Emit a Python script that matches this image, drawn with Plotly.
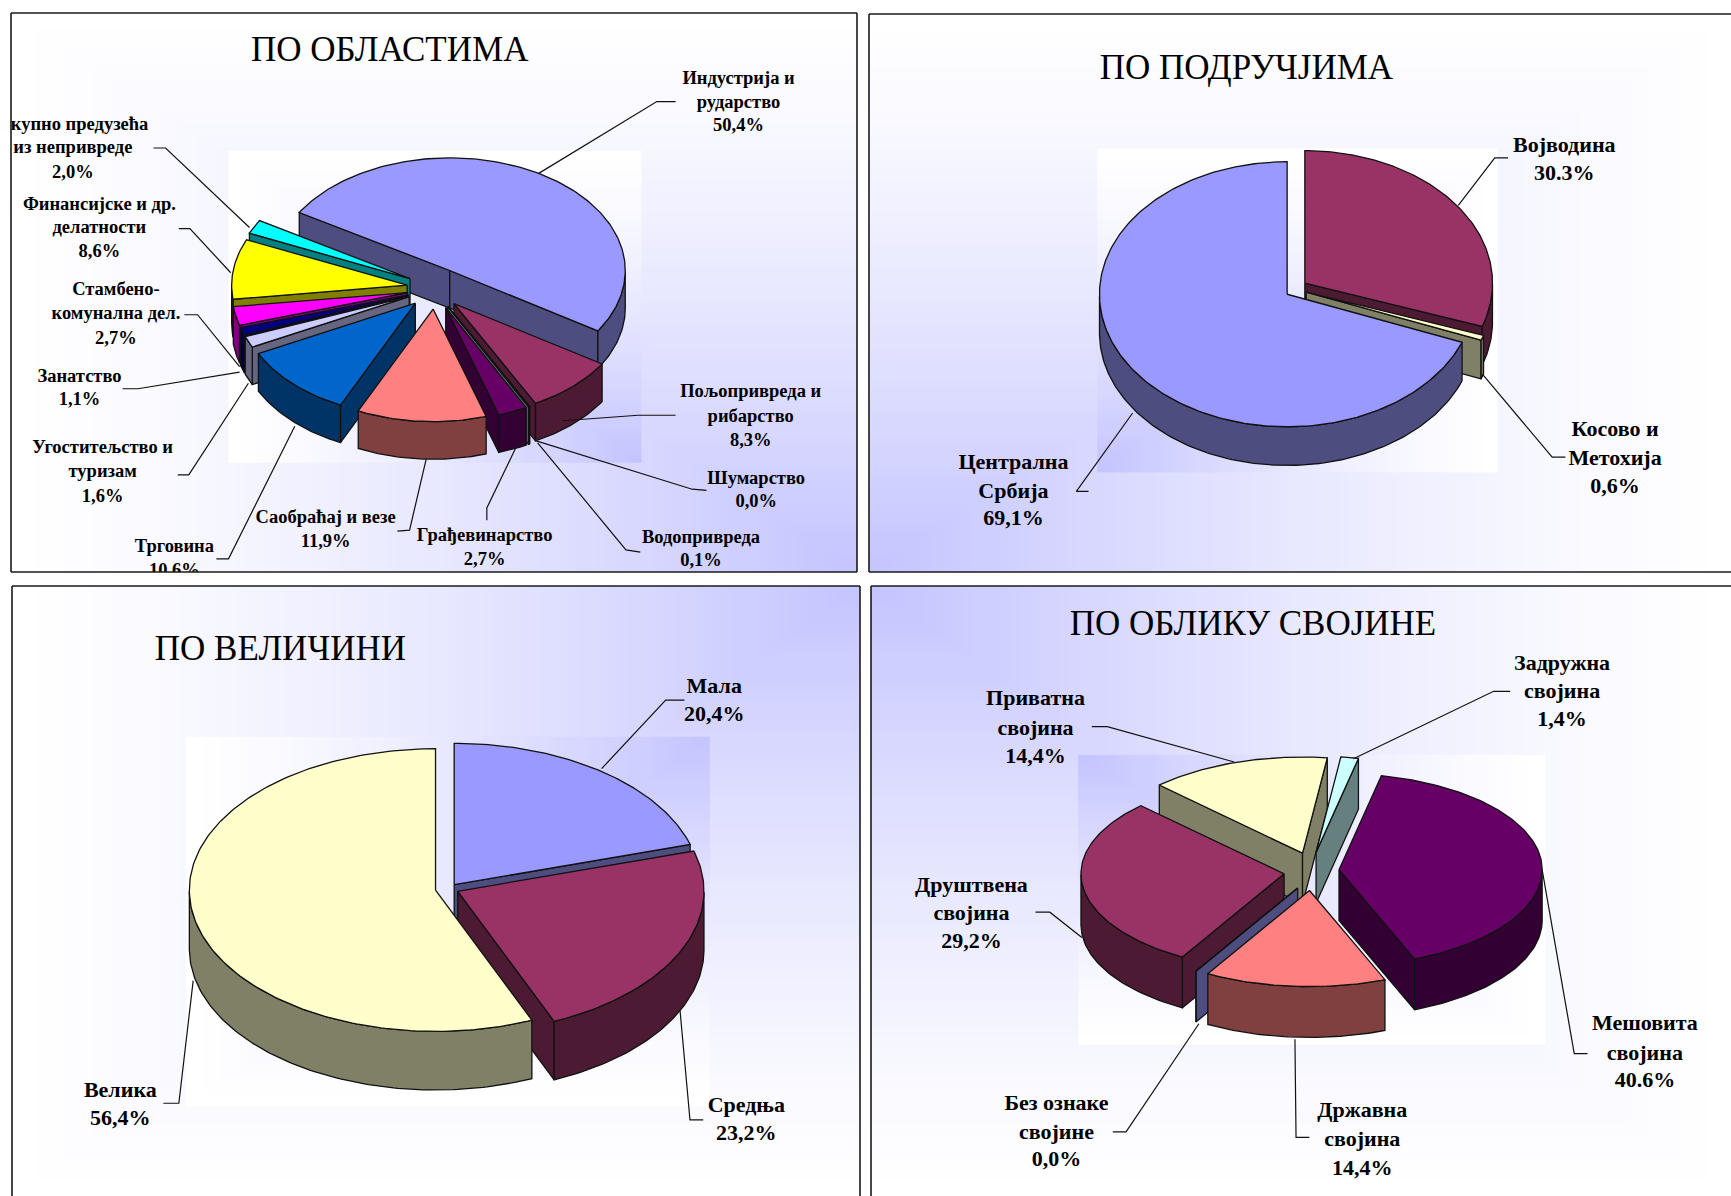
import math
import numpy as np
import plotly.graph_objects as go

# ---------- data ----------
P1_NAMES = ["Индустрија и|рударство", "Пољопривреда и|рибарство", "Шумарство", "Водопривреда",
            "Грађевинарство", "Саобраћај и везе", "Трговина", "Угоститељство и|туризам",
            "Занатство", "Стамбено-|комунална дел.", "Финансијске и др.|делатности",
            "Скупно предузећа|из непривреде"]
P1_VALUES = [50.4, 8.3, 0.0, 0.1, 2.7, 11.9, 10.6, 1.6, 1.1, 2.7, 8.6, 2.0]
P1_PCT = ["50,4%", "8,3%", "0,0%", "0,1%", "2,7%", "11,9%", "10,6%", "1,6%", "1,1%", "2,7%", "8,6%", "2,0%"]

P2_NAMES = ["Војводина", "Косово и|Метохија", "Централна|Србија"]
P2_VALUES = [30.3, 0.6, 69.1]
P2_PCT = ["30.3%", "0,6%", "69,1%"]

P3_NAMES = ["Мала", "Средња", "Велика"]
P3_VALUES = [20.4, 23.2, 56.4]
P3_PCT = ["20,4%", "23,2%", "56,4%"]

P4_NAMES = ["Задружна|својина", "Мешовита|својина", "Државна|својина", "Без ознаке|својине",
            "Друштвена|својина", "Приватна|својина"]
P4_VALUES = [1.4, 40.6, 14.4, 0.0, 29.2, 14.4]
P4_PCT = ["1,4%", "40.6%", "14,4%", "0,0%", "29,2%", "14,4%"]

TITLES = ["ПО ОБЛАСТИМА", "ПО ПОДРУЧЈИМА", "ПО ВЕЛИЧИНИ", "ПО ОБЛИКУ СВОЈИНЕ"]

# ---------- styles ----------
P1_COL = [("#9999FF", "#4D4D80"), ("#993366", "#4D1A33"), ("#FFFFCC", "#808066"), ("#CCFFFF", "#668080"),
          ("#660066", "#330033"), ("#FF8080", "#804040"), ("#0066CC", "#003366"), ("#CCCCFF", "#666680"),
          ("#000080", "#000040"), ("#FF00FF", "#800080"), ("#FFFF00", "#808000"), ("#00FFFF", "#008080")]
P2_COL = [("#993366", "#4D1A33"), ("#FFFFCC", "#808066"), ("#9999FF", "#4D4D80")]
P3_COL = [("#9999FF", "#4D4D80"), ("#993366", "#4D1A33"), ("#FFFFCC", "#808066")]
P4_COL = [("#CCFFFF", "#668080"), ("#660066", "#330033"), ("#FF8080", "#804040"), ("#9999FF", "#4D4D80"),
          ("#993366", "#4D1A33"), ("#FFFFCC", "#808066")]

SX, SY = 1731 / 1568, 1196 / 1083   # layout below measured on the 1568x1083 view
LABEL_DY = 1.7


def px(p):
    return (p[0] * SX, p[1] * SY)


# each text layout: centre x, line y positions, in the shrunk view
P1_LAB = [(669, [70, 92, 113]), (680, [354, 376, 398]), (685, [432, 453]), (635, [486, 507]),
          (439, [484, 506]), (295, [468, 489]), (158, [494, 516]), (93, [404, 426, 449]),
          (72, [340, 361]), (105, [261, 283, 306]), (90, [184, 205, 227]), (66, [112, 133, 155])]
P2_LAB = [(1417, [131, 156]), (1463, [388, 414, 440]), (918, [418, 444, 469])]
P3_LAB = [(647, [621, 646]), (676, [1000, 1026]), (109, [987, 1012])]
P4_LAB = [(1415, [600, 625, 651]), (1490, [926, 953, 978]), (1234, [1005, 1031, 1057]),
          (957, [998, 1025, 1049]), (880, [801, 826, 852]), (938, [632, 659, 684])]

P1_LEAD = [[(612, 92), (595, 92), (488, 157)], [(612, 376), (578, 376), (510, 381)],
           [(640, 444), (627, 443), (485, 399)], [(580, 500), (567, 498), (487, 401)],
           [(441, 471), (441, 460), (467, 406)], [(360, 481), (371, 480), (386, 416)],
           [(196, 506), (207, 506), (267, 386)], [(161, 430), (171, 430), (225, 347)],
           [(111, 352), (125, 352), (217, 337)], [(167, 285), (179, 285), (217, 332)],
           [(162, 207), (172, 207), (209, 247)], [(139, 134), (150, 134), (226, 206)]]
P2_LEAD = [[(1366, 143), (1354, 143), (1321, 186)], [(1418, 414), (1406, 414), (1343, 339)],
           [(986, 445), (975, 445), (1026, 374)]]
P3_LEAD = [[(620, 634), (603, 634), (545, 696)], [(637, 1014), (625, 1014), (616, 915)],
           [(148, 999), (162, 999), (175, 888)]]
P4_LEAD = [[(1368, 626), (1353, 626), (1226, 687)], [(1438, 954), (1426, 954), (1397, 788)],
           [(1186, 1030), (1174, 1030), (1173, 941)], [(1008, 1025), (1020, 1025), (1086, 927)],
           [(938, 826), (951, 826), (980, 849)], [(989, 658), (1003, 658), (1118, 690)]]

PANELS = [
    dict(box=(11, 13, 857, 572), corner=(1, 1), inner=(209, 138, 579, 417), title=(353, 47), tsize=35,
         lsize=18.5, cx=394, cy=261, rx=159, ry=102, depth=34, ex=.16, ey=.185, start=301,
         v=P1_VALUES, n=P1_NAMES, pct=P1_PCT, col=P1_COL, lab=P1_LAB, lead=P1_LEAD),
    dict(box=(869, 14, 1760, 572), corner=(0, 1), inner=(996, 136, 1354, 426), title=(1129, 64), tsize=35,
         lsize=22, cx=1174, cy=261.5, rx=170, ry=120, depth=35, ex=.0575, ey=.073, start=0,
         v=P2_VALUES, n=P2_NAMES, pct=P2_PCT, col=P2_COL, lab=P2_LAB, lead=P2_LEAD),
    dict(box=(12, 586, 860, 1230), corner=(1, 0), inner=(171, 669, 640, 1000), title=(254, 590), tsize=35,
         lsize=22, cx=405, cy=805, rx=223, ry=128, depth=53, ex=.048, ey=.038, start=0,
         v=P3_VALUES, n=P3_NAMES, pct=P3_PCT, col=P3_COL, lab=P3_LAB, lead=P3_LEAD),
    dict(box=(871, 586, 1760, 1230), corner=(0, 0), inner=(979, 685, 1397, 945), title=(1135, 567), tsize=35,
         lsize=22, cx=1188, cy=789, rx=184, ry=87, depth=46, ex=.136, ey=.2, start=7,
         v=P4_VALUES, n=P4_NAMES, pct=P4_PCT, col=P4_COL, lab=P4_LAB, lead=P4_LEAD),
]

W, H = 1731, 1196
FONT = "Liberation Serif"
GRAD = [[0, "#FFFFFF"], [1, "#C4C4FF"]]
FALLOFF = 1.35

fig = go.Figure()
layout = dict(width=W, height=H, margin=dict(l=0, r=0, t=0, b=0), paper_bgcolor="white",
              plot_bgcolor="white", showlegend=False, shapes=[], hovermode=False)


def gradient(x0, y0, x1, y1, corner, ax, ay):
    xs = np.linspace(x0, x1, 90)
    ys = np.linspace(y0, y1, 90)
    u = (xs - x0) / (x1 - x0)
    w = (ys - y0) / (y1 - y0)
    if corner[0] == 0:
        u = 1 - u
    if corner[1] == 0:
        w = 1 - w
    z = np.minimum.outer(w, u) ** FALLOFF
    fig.add_trace(go.Heatmap(x=xs, y=ys, z=z, zmin=0, zmax=1, colorscale=GRAD, showscale=False,
                             hoverinfo="skip", xaxis=ax, yaxis=ay))


def poly(pts, fill, ax, ay):
    fig.add_trace(go.Scatter(x=[p[0] for p in pts], y=[p[1] for p in pts], mode="lines", fill="toself",
                             fillcolor=fill, line=dict(color="#111111", width=1.3), hoverinfo="skip",
                             xaxis=ax, yaxis=ay))


def depth_key(a0, a1):
    # back to front: slice over 12 o'clock first, slice over 6 o'clock last, the rest by distance from 6
    if a0 <= 180 <= a1:
        return -1.0
    if a0 <= 0 <= a1 or a0 <= 360 <= a1:
        return 1000.0
    return abs(180 - ((a0 + a1) / 2) % 360)


for i, p in enumerate(PANELS):
    s = "" if i == 0 else str(i + 1)
    ax, ay = "x" + s, "y" + s
    x0, y0, x1, y1 = p["box"]
    clip_x1, clip_y1 = min(x1, W), min(y1, H)
    layout["xaxis" + s] = dict(domain=[x0 / W, clip_x1 / W], range=[x0, clip_x1], visible=False,
                               anchor=ay, fixedrange=True)
    layout["yaxis" + s] = dict(domain=[1 - clip_y1 / H, 1 - y0 / H], range=[clip_y1, y0], visible=False,
                               anchor=ax, fixedrange=True)

    gradient(x0, y0, clip_x1, clip_y1, p["corner"], ax, ay)
    ib = p["inner"]
    a, b = px(ib[:2]), px(ib[2:])
    gradient(a[0], a[1], b[0], b[1], p["corner"], ax, ay)

    cx, cy = px((p["cx"], p["cy"]))
    rx, ry = p["rx"] * SX, p["ry"] * SY
    dep = p["depth"] * SY
    total = sum(p["v"])
    ang = p["start"]
    slices = []
    for j, val in enumerate(p["v"]):
        sweep = val / total * 360
        mid = math.radians(ang + sweep / 2)
        apex = (cx + p["ex"] * rx * math.sin(mid), cy - p["ey"] * ry * math.cos(mid))
        ts = np.linspace(ang, ang + sweep, max(2, int(sweep) + 2))
        slices.append((depth_key(ang, ang + sweep), j, ang, ang + sweep, apex, ts))
        ang += sweep

    def rim(apex, t):
        r = math.radians(t)
        return (apex[0] + rx * math.sin(r), apex[1] - ry * math.cos(r))

    def down(q):
        return (q[0], q[1] + dep)

    for _, j, a0, a1, apex, ts in sorted(slices, key=lambda q: -q[0]):
        top, side = p["col"][j]
        if math.sin(math.radians(a0)) < 0:
            e = rim(apex, a0)
            poly([apex, e, down(e), down(apex), apex], side, ax, ay)
        if math.sin(math.radians(a1)) > 0:
            e = rim(apex, a1)
            poly([apex, e, down(e), down(apex), apex], side, ax, ay)
        front = [t for t in ts if math.cos(math.radians(t)) <= 0]
        if len(front) >= 2:
            arc = [rim(apex, t) for t in front]
            poly(arc + [down(q) for q in reversed(arc)] + [arc[0]], side, ax, ay)
        poly([apex] + [rim(apex, t) for t in ts] + [apex], top, ax, ay)

    # leader lines
    for pts in p["lead"]:
        q = [px(v) for v in pts]
        fig.add_trace(go.Scatter(x=[v[0] for v in q], y=[v[1] for v in q], mode="lines",
                                 line=dict(color="#111111", width=1.2), hoverinfo="skip", xaxis=ax, yaxis=ay))

    # labels, one text node per line so that the spacing can follow the picture
    tx, ty, tt = [], [], []
    for j, (lx, ly) in enumerate(p["lab"]):
        lines = p["n"][j].split("|") + [p["pct"][j]]
        for line, yy in zip(lines, ly):
            tx.append(lx * SX)
            ty.append((yy + LABEL_DY) * SY)
            tt.append(line)
    fig.add_trace(go.Scatter(x=tx, y=ty, text=tt, mode="text", textposition="middle center", cliponaxis=True,
                             textfont=dict(family=FONT, size=p["lsize"], color="#000000", weight="bold"),
                             hoverinfo="skip", xaxis=ax, yaxis=ay))
    # title
    t = px(p["title"])
    fig.add_trace(go.Scatter(x=[t[0]], y=[t[1]], text=[TITLES[i]], mode="text", textposition="middle center",
                             textfont=dict(family=FONT, size=p["tsize"], color="#000000"),
                             hoverinfo="skip", xaxis=ax, yaxis=ay))

    # frame
    edges = [dict(x0=x0, y0=y0, x1=x0, y1=clip_y1), dict(x0=x0, y0=y0, x1=clip_x1, y1=y0)]
    if x1 <= W:
        edges.append(dict(x0=x1, y0=y0, x1=x1, y1=clip_y1))
    if y1 <= H:
        edges.append(dict(x0=x0, y0=y1, x1=clip_x1, y1=y1))
    for e in edges:
        layout["shapes"].append(dict(type="line", xref="paper", yref="paper", x0=e["x0"] / W, x1=e["x1"] / W,
                                     y0=1 - e["y0"] / H, y1=1 - e["y1"] / H,
                                     line=dict(color="#1A1A1A", width=1.6)))

fig.update_layout(**layout)
fig.write_html("out.html", config={"displayModeBar": False},
               post_script="document.body.style.margin='0';document.body.style.overflow='hidden';")
